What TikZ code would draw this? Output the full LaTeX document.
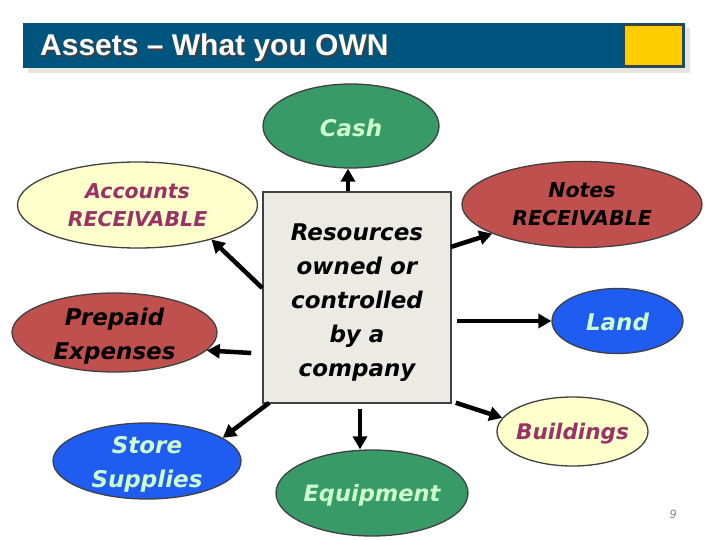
\documentclass[tikz,border=0pt]{standalone}
\usepackage{fontspec}
\setmainfont{Liberation Sans}
\newfontfamily\comic{DejaVu Sans}
\usetikzlibrary{shapes.geometric,arrows.meta}
\definecolor{titleblue}{HTML}{00557F}
\definecolor{titleshadow}{HTML}{E6E4DC}
\definecolor{goldbox}{HTML}{FFCC00}
\definecolor{cashgreen}{HTML}{389A67}
\definecolor{lightgreen}{HTML}{CCFFCC}
\definecolor{paleyellow}{HTML}{FFFFCC}
\definecolor{plum}{HTML}{993366}
\definecolor{brickred}{HTML}{C0504D}
\definecolor{brightblue}{HTML}{1E5CF2}
\definecolor{boxfill}{HTML}{ECEBE3}
\definecolor{edge}{HTML}{404040}
\begin{document}
\begin{tikzpicture}[x=1pt,y=-1pt,
  ell/.style={ellipse, draw=edge, line width=1.3pt, inner sep=0pt},
  lab/.style={font=\comic\bfseries\itshape\fontsize{23}{34}\selectfont, align=center, yshift=-3.5pt},
  labone/.style={font=\comic\bfseries\itshape\fontsize{22.5}{30}\selectfont, align=center, yshift=-2pt},
  labsmall/.style={font=\comic\bfseries\itshape\fontsize{20.5}{28}\selectfont, align=center},
  arr/.style={line width=4.5pt, -{Triangle[length=13pt,width=14pt]}}]
\useasboundingbox (0,0) rectangle (720,540);
\fill[white] (0,0) rectangle (720,540);
% title bar
\fill[titleshadow] (28,28) rectangle (690,73);
\node[fill=titleblue, minimum width=662pt, minimum height=45pt, inner sep=0pt] (bar) at (354,45.5) {};
\node[fill=goldbox, draw=edge, line width=1.5pt, minimum width=59pt, minimum height=41pt, inner sep=0pt] (gold) at (653.5,45.5) {};
\node[anchor=base west, inner sep=0pt, text=black!75, font=\bfseries\fontsize{30}{32}\selectfont] (titlesh) at (41.5,57.5) {Assets – What you OWN};
\node[anchor=base west, inner sep=0pt, text=white, font=\bfseries\fontsize{30}{32}\selectfont] (title) at (40,56) {Assets – What you OWN};
% central box
\node[fill=boxfill, draw=edge, line width=1.5pt, minimum width=188pt, minimum height=211pt, inner sep=0pt,
  label={[lab, text=black, yshift=-1.5pt]center:Resources\\owned or\\controlled\\by a\\company}] (box) at (357,297.5) {};
% ellipses
\node[ell, fill=cashgreen, minimum width=176pt, minimum height=84pt,
  label={[labone, text=lightgreen, font=\comic\bfseries\itshape\fontsize{23}{30}\selectfont]center:Cash}] (cash) at (351,126) {};
\node[ell, fill=paleyellow, minimum width=240pt, minimum height=86pt,
  label={[labsmall, text=plum]center:Accounts\\RECEIVABLE}] (acc) at (137.5,205) {};
\node[ell, fill=brickred, minimum width=205pt, minimum height=79pt,
  label={[lab, text=black]center:Prepaid\\Expenses}] (pre) at (114.5,332.5) {};
\node[ell, fill=brightblue, minimum width=188pt, minimum height=76pt,
  label={[lab, text=lightgreen]center:Store\\Supplies}] (sup) at (147,461) {};
\node[ell, fill=cashgreen, minimum width=192pt, minimum height=86pt,
  label={[labone, text=lightgreen]center:Equipment}] (eqp) at (372,493) {};
\node[ell, fill=brickred, minimum width=240pt, minimum height=86pt,
  label={[labsmall, text=black]center:Notes\\RECEIVABLE}] (notes) at (582,204.5) {};
\node[ell, fill=brightblue, minimum width=131pt, minimum height=65pt,
  label={[labone, text=lightgreen, font=\comic\bfseries\itshape\fontsize{23}{30}\selectfont, yshift=1pt]center:Land}] (land) at (617.5,321) {};
\node[ell, fill=paleyellow, minimum width=151pt, minimum height=69pt,
  label={[labone, text=plum, font=\comic\bfseries\itshape\fontsize{21.5}{30}\selectfont]center:Buildings}] (bld) at (572.5,431.5) {};
% arrows
\draw[arr] ([xshift=-9pt]box.north) -- ([xshift=-9pt]box.north |- cash.south);
\draw[arr] ([yshift=9.5pt]box.west) -- (acc.-25);
\draw[arr] ([xshift=-11pt,yshift=-55.5pt]box.west) -- (pre.-11);
\draw[arr] ([xshift=7pt,yshift=1pt]box.south west) -- (sup.17);
\draw[arr] ([xshift=3pt,yshift=-5pt]box.south) -- ([xshift=3pt]box.south |- eqp.north);
\draw[arr] ([xshift=-1pt,yshift=50.5pt]box.east) -- (notes.198);
\draw[arr] ([xshift=5pt]box.east |- land.west) -- (land.west);
\draw[arr] ([xshift=4pt,yshift=1pt]box.south east) -- (bld.169);
% page number
\node[text=black!50, font=\itshape\fontsize{12}{13}\selectfont] (pg) at (673,514) {9};
\end{tikzpicture}
\end{document}
